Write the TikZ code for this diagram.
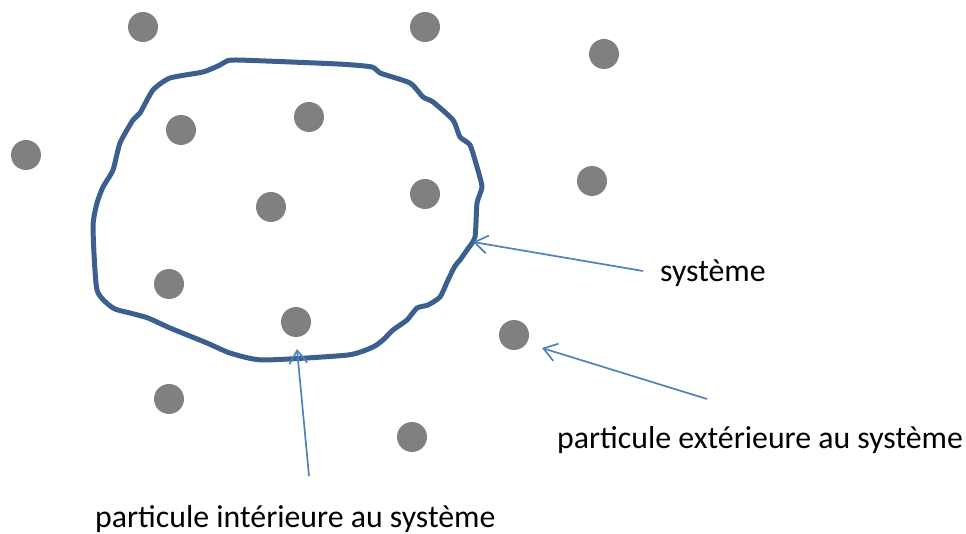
\documentclass[tikz,border=0pt]{standalone}
\usepackage{fontspec}
\setmainfont{Carlito}
\usetikzlibrary{arrows.meta}
\definecolor{dotgray}{RGB}{128,128,128}
\definecolor{sysblue}{RGB}{59,96,144}
\definecolor{arrowblue}{RGB}{79,129,189}
\tikzset{
  particle/.style={circle,fill=dotgray,draw=none,minimum size=30pt,inner sep=0pt},
  boundary/.style={draw=sysblue,line width=5pt,line join=round},
  pointer/.style={draw=arrowblue,line width=1.7pt,-{Straight Barb[length=13pt,width=18pt,line width=1.7pt]}},
  caption/.style={font=\fontsize{31.8}{36}\selectfont,inner sep=0pt,anchor=base west}
}
\begin{document}
\begin{tikzpicture}[x=1pt,y=-1pt]
\useasboundingbox (0,0) rectangle (966,534);

% particles
\node[particle] (p1)  at (143,27)  {};
\node[particle] (p2)  at (425,27)  {};
\node[particle] (p3)  at (604,54)  {};
\node[particle] (p4)  at (26,155)  {};
\node[particle] (p5)  at (181,130) {};
\node[particle] (p6)  at (309,117) {};
\node[particle] (p7)  at (271,207) {};
\node[particle] (p8)  at (425,194) {};
\node[particle] (p9)  at (592,181) {};
\node[particle] (p10) at (169,284) {};
\node[particle] (p11) at (296,322) {};
\node[particle] (p12) at (514,335) {};
\node[particle] (p13) at (169,399) {};
\node[particle] (p14) at (412,437) {};

% wobbly system boundary
\draw[boundary] plot[smooth cycle,tension=0.35] coordinates {
  (225,62) (237,60) (338,64) (372,67) (380,73) (410,83) (423,97) (433,102)
  (453,120) (460,137) (470,145) (477,167) (482,187) (477,203) (475,237)
  (467,250) (460,260) (455,266) (448,280) (440,297) (428,305) (417,308) (407,320)
  (393,330) (383,340) (373,347) (348,355) (263,360) (230,353) (207,343)
  (170,328) (148,318) (130,313) (113,308) (97,290) (93,227) (97,203)
  (103,187) (113,170) (120,143) (133,120) (140,113) (153,90) (170,78)
  (203,72) (220,65)};

% labels
\node[caption] (lsys) at (660,282) {système};
\node[caption] (lext) at (557,448) {particule extérieure au système};
\node[caption] (lint) at (95,527)  {particule intérieure au système};

% pointer ends
\coordinate (tsys) at (643,271);
\coordinate (hsys) at (473,242);
\coordinate (text) at (707,399);
\coordinate (hext) at (542,348);
\coordinate (tint) at (309,476);
\coordinate (hint) at (297,349);

\draw[pointer] (tsys) -- (hsys);
\draw[pointer] (text) -- (hext);
\draw[pointer] (tint) -- (hint);
\end{tikzpicture}
\end{document}
